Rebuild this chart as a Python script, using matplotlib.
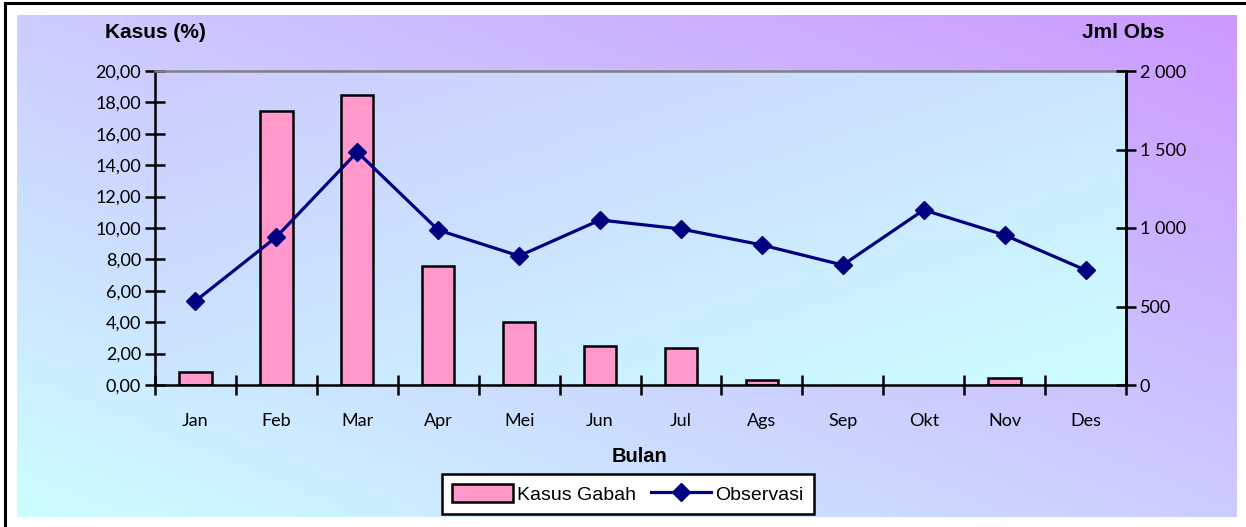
import matplotlib
matplotlib.use("Agg")
import matplotlib.pyplot as plt
import matplotlib.ticker as mticker
from matplotlib.lines import Line2D
from matplotlib.patches import Patch
import numpy as np

months = ["Jan", "Feb", "Mar", "Apr", "Mei", "Jun", "Jul", "Ags", "Sep", "Okt", "Nov", "Des"]
kasus_gabah = [0.83, 17.45, 18.47, 7.58, 4.0, 2.48, 2.36, 0.3, 0.0, 0.0, 0.45, 0.0]
observasi = [535, 943, 1484, 987, 822, 1051, 994, 892, 764, 1115, 955, 732]

W, H = 1246, 527
fig = plt.figure(figsize=(W / 100, H / 100), dpi=100)
fig.patch.set_facecolor("white")

TICKFONT = ["Lato", "DejaVu Sans"]
TITLEFONT = ["Liberation Sans", "DejaVu Sans"]

def gradient(nx, ny, diag):
    x = np.linspace(0, 1, nx)[None, :]
    y = np.linspace(0, 1, ny)[:, None]  # row 0 at top
    return (x + y) / 2 if diag == "tl-br" else (x + (1 - y)) / 2

# outer chart area background: cyan bottom-left -> purple top-right
bg = fig.add_axes([17 / W, 1 - 517 / H, (1237 - 17) / W, (517 - 15) / H], zorder=-2)
t = gradient(300, 150, "bl-tr")
img = np.dstack([np.full_like(t, 204 / 255), (255 - 102 * t) / 255, np.ones_like(t)])
bg.imshow(img, aspect="auto", extent=[0, 1, 0, 1], interpolation="bilinear")
bg.axis("off")

# frame lines (top and left only visible)
fig.add_artist(Line2D([5 / W, 5 / W], [0, 1 - 3 / H], color="black", lw=2.2))
fig.add_artist(Line2D([5 / W, 1], [1 - 3 / H, 1 - 3 / H], color="black", lw=2.2))

ax = fig.add_axes([155 / W, 1 - 385 / H, (1126 - 155) / W, (385 - 71) / H])
ax.patch.set_alpha(0)
t2 = gradient(300, 150, "tl-br")
img2 = np.dstack([np.full_like(t2, 204 / 255), (204 + 51 * t2) / 255, np.ones_like(t2)])
ax.imshow(img2, aspect="auto", extent=[-0.5, 11.5, 0, 20], interpolation="bilinear", zorder=0)

x = np.arange(len(months))
lws = [1.8 if v > 0 else 0 for v in kasus_gabah]
ax.bar(x, kasus_gabah, width=0.4, color="#ff99cc", edgecolor="black", linewidth=lws, zorder=2)
ax.set_xlim(-0.5, 11.5)
ax.set_ylim(0, 20)
ax.set_yticks(np.arange(0, 21, 2))
ax.yaxis.set_major_formatter(mticker.FuncFormatter(lambda v, p: f"{v:.2f}".replace(".", ",")))
ax.set_xticks(x)
ax.set_xticklabels(months)
ax.set_xticks(np.arange(-0.5, 12, 1), minor=True)
ax.tick_params(axis="x", which="major", length=0, pad=20, labelsize=13)
ax.tick_params(axis="x", which="minor", direction="inout", length=15, width=1.8)
ax.tick_params(axis="y", direction="inout", length=14, width=1.8, labelsize=13, pad=3)
for lab in ax.get_xticklabels() + ax.get_yticklabels():
    lab.set_family(TICKFONT)
for s in ["left", "bottom", "right"]:
    ax.spines[s].set_linewidth(1.8)
ax.spines["top"].set_color("#808080")
ax.spines["top"].set_linewidth(1.8)

ax2 = ax.twinx()
ax2.plot(x, observasi, color="#000080", lw=2.3, marker="D", markersize=9.5, zorder=3)
ax2.set_ylim(0, 2000)
ax2.set_yticks(np.arange(0, 2001, 500))
ax2.yaxis.set_major_formatter(mticker.FuncFormatter(lambda v, p: f"{int(v):,}".replace(",", " ")))
ax2.tick_params(axis="y", direction="inout", length=14, width=1.8, labelsize=13, pad=3)
for lab in ax2.get_yticklabels():
    lab.set_family(TICKFONT)
ax2.spines["right"].set_linewidth(1.8)
ax2.spines["top"].set_visible(False)
for s in ["left", "bottom"]:
    ax2.spines[s].set_visible(False)

fig.text(155 / W, 1 - 32 / H, "Kasus (%)", ha="center", va="center", fontsize=15,
         fontweight="bold", family=TITLEFONT)
fig.text(1123 / W, 1 - 32 / H, "Jml Obs", ha="center", va="center", fontsize=15,
         fontweight="bold", family=TITLEFONT)
fig.text(640 / W, 1 - 457 / H, "Bulan", ha="center", va="center", fontsize=14.5,
         fontweight="bold", family=TITLEFONT)

handles = [Patch(facecolor="#ff99cc", edgecolor="black", linewidth=1.8, label="Kasus Gabah"),
           Line2D([], [], color="#000080", lw=2.3, marker="D", markersize=9.5, label="Observasi")]
leg = fig.legend(handles=handles, loc="center", bbox_to_anchor=(628 / W, 1 - 494 / H), ncol=2,
                 frameon=True, fancybox=False, prop={"family": TITLEFONT, "size": 14},
                 handlelength=3.1, handleheight=1.0, handletextpad=0.2,
                 columnspacing=0.8, borderpad=0.55)
leg.get_frame().set_edgecolor("black")
leg.get_frame().set_linewidth(1.8)
leg.get_frame().set_facecolor("white")
leg.get_frame().set_alpha(1)

fig.savefig("out.png", dpi=100)
